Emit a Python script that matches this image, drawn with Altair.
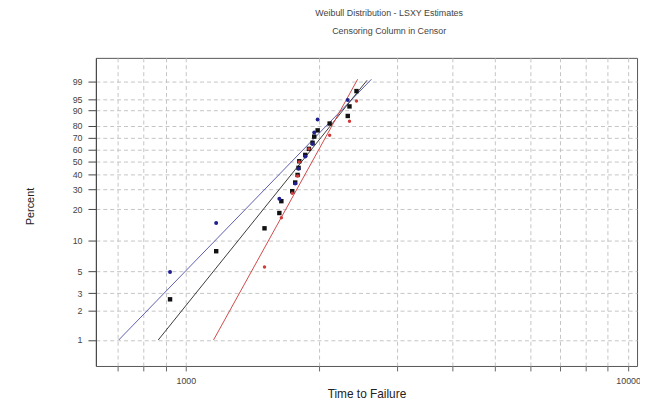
import altair as alt
import numpy as np
import pandas as pd

# ---- data ----
black_time = [921, 1171, 1506, 1627, 1644, 1740, 1767, 1789, 1798, 1805,
              1862, 1898, 1934, 1951, 1986, 2114, 2323, 2344, 2431]
black_pct = [2.6, 7.9, 13.2, 18.4, 23.6, 28.9, 34.2, 39.4, 44.7, 50.0,
             55.3, 60.5, 65.8, 71.1, 76.3, 81.6, 86.8, 92.1, 97.4]

blue_time = [921, 1171, 1627, 1767, 1798, 1862, 1934, 1951, 1986, 2323]
blue_pct = [4.9, 14.8, 24.8, 33.5, 44.0, 54.0, 64.8, 74.5, 84.5, 94.8]

red_time = [1506, 1644, 1740, 1789, 1805, 1898, 2114, 2344, 2431]
red_pct = [5.5, 16.6, 27.7, 38.7, 49.5, 60.5, 72.2, 83.2, 94.4]

# fitted lines (end points)
line_series = ["blue", "blue", "black", "black", "red", "red"]
line_time = [705, 2628, 866, 2568, 1155, 2446]
line_pct = [1.0, 99.2, 1.0, 99.1, 1.0, 99.2]

pct_ticks = [1, 2, 3, 5, 10, 20, 30, 40, 50, 60, 70, 80, 90, 95, 99]
x_ticks = [700, 800, 900, 1000, 2000, 3000, 4000, 5000, 6000, 7000, 8000, 9000, 10000]

title = "Weibull Distribution - LSXY Estimates"
subtitle = "Censoring Column in Censor"


def wb(p):
    p = np.asarray(p, dtype=float) / 100.0
    return np.log(-np.log(1.0 - p))


pts = pd.concat([
    pd.DataFrame({"time": black_time, "v": wb(black_pct), "series": "black", "ord": 0}),
    pd.DataFrame({"time": blue_time, "v": wb(blue_pct), "series": "blue", "ord": 1}),
    pd.DataFrame({"time": red_time, "v": wb(red_pct), "series": "red", "ord": 2}),
], ignore_index=True)

lines = pd.DataFrame({"time": line_time, "v": wb(line_pct), "series": line_series})

FONT = "Liberation Sans"

xscale = alt.Scale(type="log", domain=[626, 10474], nice=False)
yscale = alt.Scale(domain=[-5.215, 2.081], nice=False, zero=False)

x_axis = alt.Axis(
    title="Time to Failure", values=x_ticks,
    labelExpr="datum.value == 1000 || datum.value == 10000 ? format(datum.value, 'd') : ''",
    grid=True, gridDash=[4, 3], gridColor="#c4c4c4",
    tickSize=5, tickColor="#666", labelPadding=6, labelFontSize=9,
    labelColor="#444", titleFontSize=12, titleColor="#222", titlePadding=3,
    titleFontWeight="normal", domain=False, labelFlush=False, labelOverlap=False,
)
y_axis = alt.Axis(
    title="Percent", values=[float(v) for v in wb(pct_ticks)],
    labelExpr="format(100*(1-exp(-exp(datum.value))), '.0f')",
    grid=True, gridDash=[4, 3], gridColor="#c4c4c4",
    tickSize=8, tickColor="#444", labelPadding=6, labelFontSize=9,
    labelColor="#444", titleFontSize=11, titleColor="#222",
    titleFontWeight="normal", domainColor="#444",
    labelOverlap=False, labelFlush=False, labelBound=False,
    titleX=-66, titleY=150, titleAlign="center", titleBaseline="middle",
)

x_enc = alt.X("time:Q", scale=xscale, axis=x_axis)
y_enc = alt.Y("v:Q", scale=yscale, axis=y_axis)

color_scale = alt.Scale(domain=["black", "blue", "red"],
                        range=["#111111", "#1f1f8f", "#d03a3a"])

line_layer = alt.Chart(lines).mark_line(strokeWidth=1, clip=True).encode(
    x=x_enc, y=y_enc,
    color=alt.Color("series:N", scale=alt.Scale(
        domain=["black", "blue", "red"], range=["#3a3a3a", "#5c5cae", "#d04848"]), legend=None),
    detail="series:N",
)

point_layer = alt.Chart(pts).mark_point(filled=True, opacity=1).encode(
    x=x_enc, y=y_enc,
    color=alt.Color("series:N", scale=color_scale, legend=None),
    shape=alt.Shape("series:N", scale=alt.Scale(domain=["black", "blue", "red"],
                                                  range=["square", "circle", "circle"]), legend=None),
    size=alt.Size("series:N", scale=alt.Scale(domain=["black", "blue", "red"],
                                               range=[20, 12, 10]), legend=None),
    order="ord:Q",
)

chart = alt.layer(line_layer, point_layer).resolve_scale(color="independent").properties(
    width=548, height=312,
    autosize=alt.AutoSizeParams(type="none"),
    padding={"left": 89, "top": 48, "right": 3, "bottom": 36},
    title=alt.TitleParams(text=title, subtitle=subtitle, anchor="middle", dx=23,
                          fontSize=9, subtitleFontSize=9, font=FONT, subtitleFont=FONT,
                          fontWeight="normal", color="#444", subtitleColor="#444",
                          subtitlePadding=9, offset=22),
).configure(font=FONT, background="white").configure_view(
    stroke="#555", strokeWidth=1
).configure_axis(labelFont=FONT, titleFont=FONT, labelOverlap=False)

chart.save("out.html", embed_options={"renderer": "svg", "actions": False})
